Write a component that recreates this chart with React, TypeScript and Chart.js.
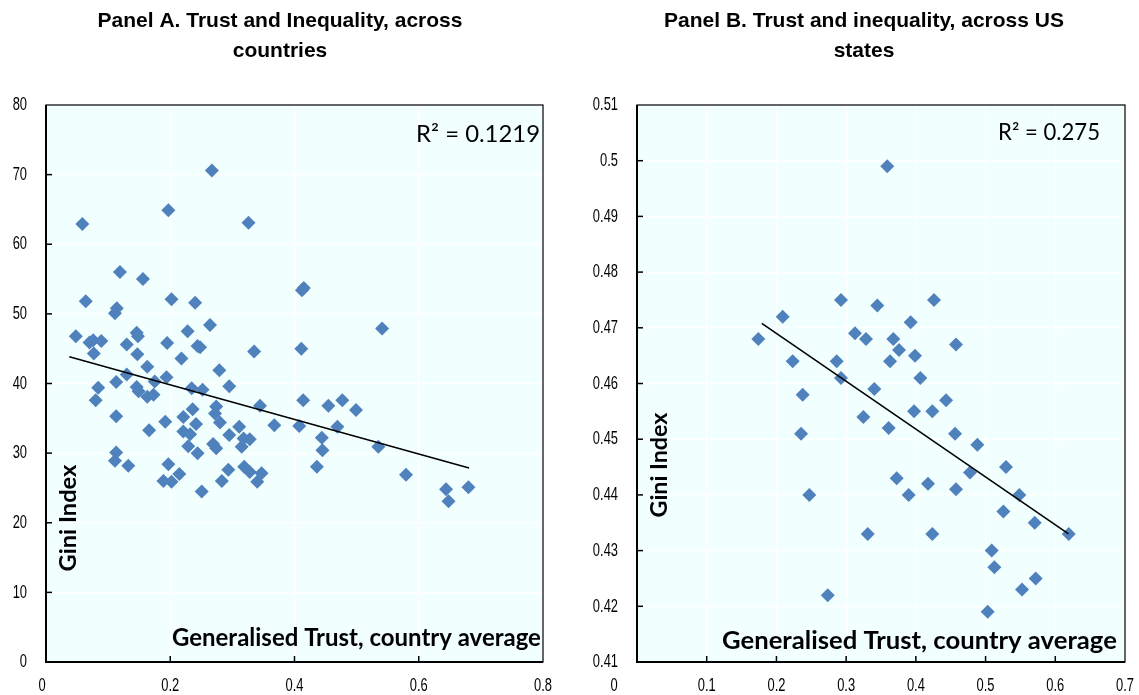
import React, { useEffect, useRef } from "react";
import { Chart, registerables } from "chart.js";
Chart.register(...registerables);

// ---------- Panel A: countries ----------
const countryTrust = [
  0.0585, 0.119, 0.156, 0.197, 0.267, 0.326, 0.064, 0.202, 0.24, 0.412, 0.415, 0.114, 0.111, 0.048, 0.07, 0.076,
  0.089, 0.077, 0.146, 0.148, 0.228, 0.264, 0.13, 0.195, 0.244, 0.248, 0.147, 0.218, 0.335, 0.163, 0.279, 0.13,
  0.084, 0.113, 0.146, 0.149, 0.175, 0.194, 0.2345, 0.252, 0.295, 0.08, 0.163, 0.173, 0.274, 0.272, 0.28, 0.3445,
  0.113, 0.236, 0.221, 0.2415, 0.192, 0.166, 0.311, 0.3675, 0.221, 0.232, 0.295, 0.318, 0.328, 0.315, 0.269, 0.274,
  0.229, 0.244, 0.113, 0.111, 0.1325, 0.197, 0.2935, 0.319, 0.328, 0.347, 0.2146, 0.189, 0.202, 0.283, 0.34, 0.2506,
  0.411, 0.414, 0.4545, 0.477, 0.499, 0.4076, 0.469, 0.444, 0.445, 0.535, 0.436, 0.5795, 0.644, 0.68, 0.648, 0.541,
];
const countryGini = [
  62.9, 56.0, 55.0, 64.9, 70.6, 63.1, 51.8, 52.1, 51.6, 53.4, 53.7, 50.8, 50.1, 46.8, 45.9, 46.2,
  46.1, 44.3, 47.3, 46.8, 47.5, 48.4, 45.6, 45.8, 45.4, 45.2, 44.2, 43.6, 44.6, 42.4, 41.9, 41.3,
  39.4, 40.2, 39.5, 38.9, 40.3, 40.9, 39.3, 39.1, 39.6, 37.6, 38.1, 38.4, 36.7, 35.7, 34.4, 36.8,
  35.3, 36.3, 35.2, 34.2, 34.5, 33.3, 33.8, 34.0, 33.1, 32.7, 32.6, 32.1, 32.0, 30.9, 31.3, 30.7,
  31.0, 30.0, 30.1, 28.9, 28.2, 28.4, 27.6, 28.05, 27.3, 27.1, 27.0, 26.0, 25.9, 26.0, 25.9, 24.5,
  45.0, 37.6, 36.8, 37.6, 36.2, 33.9, 33.8, 32.2, 30.4, 30.9, 28.05, 26.9, 24.8, 25.1, 23.1, 47.9,
];
const countryTrendX = [0.0375, 0.681];
const countryTrendY = [43.85, 27.86];
const countryXTicks = [0, 0.2, 0.4, 0.6, 0.8];
const countryXLabels = ["0", "0.2", "0.4", "0.6", "0.8"];
const countryYTicks = [0, 10, 20, 30, 40, 50, 60, 70, 80];
const countryYLabels = ["0", "10", "20", "30", "40", "50", "60", "70", "80"];

// ---------- Panel B: US states ----------
const stateTrust = [
  0.174, 0.209, 0.2233, 0.2377, 0.2353, 0.2472, 0.2736, 0.2864, 0.2926, 0.2926, 0.3127, 0.3247, 0.3285, 0.331,
  0.3404, 0.3447, 0.359, 0.361, 0.363, 0.3677, 0.3725, 0.3758, 0.3897, 0.3926, 0.3974, 0.3988, 0.4064, 0.4174,
  0.4236, 0.4236, 0.426, 0.4433, 0.4562, 0.4576, 0.4576, 0.4777, 0.4882, 0.503, 0.5088, 0.5126, 0.5255, 0.5293,
  0.5484, 0.5523, 0.5705, 0.5719, 0.6193,
];
const stateGini = [
  0.468, 0.472, 0.464, 0.458, 0.451, 0.44, 0.422, 0.464, 0.475, 0.461, 0.469, 0.454, 0.468, 0.433,
  0.459, 0.474, 0.499, 0.452, 0.464, 0.468, 0.443, 0.466, 0.44, 0.471, 0.455, 0.465, 0.461, 0.442,
  0.455, 0.433, 0.475, 0.457, 0.451, 0.467, 0.441, 0.444, 0.449, 0.419, 0.43, 0.427, 0.437, 0.445,
  0.44, 0.423, 0.435, 0.425, 0.433,
];
const stateTrendX = [0.179, 0.619];
const stateTrendY = [0.4708, 0.433];
const stateXTicks = [0, 0.1, 0.2, 0.3, 0.4, 0.5, 0.6, 0.7];
const stateXLabels = ["0", "0.1", "0.2", "0.3", "0.4", "0.5", "0.6", "0.7"];
const stateYTicks = [0.41, 0.42, 0.43, 0.44, 0.45, 0.46, 0.47, 0.48, 0.49, 0.5, 0.51];
const stateYLabels = ["0.41", "0.42", "0.43", "0.44", "0.45", "0.46", "0.47", "0.48", "0.49", "0.5", "0.51"];

const TICK_FONT = "'Liberation Sans', Arial, sans-serif";
const TITLE_FONT = "'Liberation Sans', Arial, sans-serif";
const LABEL_FONT = "Lato, 'Noto Sans', sans-serif";
const BG = "#F2FFFF";
const POINT = "#4F81BD";

type Panel = {
  key: string;
  left: number;
  width: number;
  title: string[];
  titleX: number;
  r2: string;
  r2Right: number;
  r2Width: number;
  r2Y: number;
  xTitleLeft: number;
  xTitleWidth: number;
  xTitleY: number;
  yTitleX: number;
  yTitleY: number;
  yTitleLen: number;
  yAxisWidth: number;
  rightPad: number;
  firstXLabelShift: number;
  xs: number[];
  ys: number[];
  tx: number[];
  ty: number[];
  xTicks: number[];
  xLabels: string[];
  yTicks: number[];
  yLabels: string[];
};

const panels: Panel[] = [
  {
    key: "A",
    left: 0,
    width: 570,
    title: ["Panel A. Trust and Inequality, across", "countries"],
    titleX: 280,
    r2: "R\u00b2 = 0.1219",
    r2Right: 540,
    r2Width: 124,
    r2Y: 134,
    xTitleLeft: 172,
    xTitleWidth: 369,
    xTitleY: 638,
    yTitleX: 68,
    yTitleY: 518,
    yTitleLen: 107,
    yAxisWidth: 46,
    rightPad: 27,
    firstXLabelShift: -4,
    xs: countryTrust,
    ys: countryGini,
    tx: countryTrendX,
    ty: countryTrendY,
    xTicks: countryXTicks,
    xLabels: countryXLabels,
    yTicks: countryYTicks,
    yLabels: countryYLabels,
  },
  {
    key: "B",
    left: 570,
    width: 569,
    title: ["Panel B. Trust and inequality, across US", "states"],
    titleX: 294,
    r2: "R\u00b2 = 0.275",
    r2Right: 530,
    r2Width: 102,
    r2Y: 133,
    xTitleLeft: 152,
    xTitleWidth: 395,
    xTitleY: 641,
    yTitleX: 89,
    yTitleY: 465,
    yTitleLen: 105,
    yAxisWidth: 67,
    rightPad: 14,
    firstXLabelShift: -23,
    xs: stateTrust,
    ys: stateGini,
    tx: stateTrendX,
    ty: stateTrendY,
    xTicks: stateXTicks,
    xLabels: stateXLabels,
    yTicks: stateYTicks,
    yLabels: stateYLabels,
  },
];

function fitFont(ctx: CanvasRenderingContext2D, text: string, weight: string, family: string, target: number) {
  ctx.font = `${weight} 20px ${family}`;
  const w = ctx.measureText(text).width;
  const size = (20 * target) / w;
  ctx.font = `${weight} ${size}px ${family}`;
}

function narrowText(ctx: CanvasRenderingContext2D, text: string, x: number, y: number, align: CanvasTextAlign) {
  ctx.save();
  ctx.translate(x, y);
  ctx.scale(0.68, 1);
  ctx.font = `19px ${TICK_FONT}`;
  ctx.textAlign = align;
  ctx.textBaseline = "middle";
  ctx.fillStyle = "#000";
  ctx.fillText(text, 0, 0);
  ctx.restore();
}

function decor(p: Panel) {
  return {
    id: "decor" + p.key,
    beforeDraw(chart: any) {
      const { ctx, chartArea: a } = chart;
      ctx.save();
      ctx.fillStyle = BG;
      ctx.fillRect(a.left, a.top, a.right - a.left, a.bottom - a.top);
      ctx.restore();
    },
    afterDraw(chart: any) {
      const { ctx, chartArea: a } = chart;
      const xs = chart.scales.x;
      const ys = chart.scales.y;
      ctx.save();
      // frame
      ctx.strokeStyle = "#000";
      ctx.lineWidth = 1.2;
      ctx.strokeRect(a.left, a.top, a.right - a.left, a.bottom - a.top);
      ctx.lineWidth = 2;
      ctx.beginPath();
      ctx.moveTo(a.left, a.top);
      ctx.lineTo(a.left, a.bottom);
      ctx.lineTo(a.right, a.bottom);
      ctx.stroke();
      // inner tick marks
      ctx.lineWidth = 1.5;
      p.xTicks.slice(1, -1).forEach((v) => {
        const px = xs.getPixelForValue(v);
        ctx.beginPath();
        ctx.moveTo(px, a.bottom);
        ctx.lineTo(px, a.bottom - 6);
        ctx.stroke();
      });
      p.yTicks.slice(1, -1).forEach((v) => {
        const py = ys.getPixelForValue(v);
        ctx.beginPath();
        ctx.moveTo(a.left, py);
        ctx.lineTo(a.left + 6, py);
        ctx.stroke();
      });
      // tick labels (condensed)
      p.yTicks.forEach((v, i) => {
        narrowText(ctx, p.yLabels[i], a.left - 19, ys.getPixelForValue(v), "right");
      });
      p.xTicks.forEach((v, i) => {
        const shift = i === 0 ? p.firstXLabelShift : 0;
        narrowText(ctx, p.xLabels[i], xs.getPixelForValue(v) + shift, a.bottom + 24, "center");
      });
      ctx.fillStyle = "#000";
      // title
      ctx.font = `bold 21px ${TITLE_FONT}`;
      ctx.textAlign = "center";
      ctx.textBaseline = "alphabetic";
      ctx.fillText(p.title[0], p.titleX, 27);
      ctx.fillText(p.title[1], p.titleX, 57);
      // R2
      fitFont(ctx, p.r2, "normal", LABEL_FONT, p.r2Width);
      ctx.textAlign = "right";
      ctx.textBaseline = "middle";
      ctx.fillText(p.r2, p.r2Right, p.r2Y);
      // x title
      const xt = "Generalised Trust, country average";
      fitFont(ctx, xt, "bold", LABEL_FONT, p.xTitleWidth);
      ctx.textAlign = "left";
      ctx.fillText(xt, p.xTitleLeft, p.xTitleY);
      // y title
      const yt = "Gini Index";
      fitFont(ctx, yt, "bold", LABEL_FONT, p.yTitleLen);
      ctx.translate(p.yTitleX, p.yTitleY);
      ctx.rotate(-Math.PI / 2);
      ctx.textAlign = "center";
      ctx.fillText(yt, 0, 0);
      ctx.restore();
    },
  };
}

function PanelChart({ p }: { p: Panel }) {
  const ref = useRef<HTMLCanvasElement | null>(null);
  useEffect(() => {
    if (!ref.current) return;
    const points = p.xs.map((x, i) => ({ x, y: p.ys[i] }));
    const trend = p.tx.map((x, i) => ({ x, y: p.ty[i] }));
    const xmin = p.xTicks[0];
    const xmax = p.xTicks[p.xTicks.length - 1];
    const ymin = p.yTicks[0];
    const ymax = p.yTicks[p.yTicks.length - 1];
    const chart = new Chart(ref.current, {
      type: "scatter",
      data: {
        datasets: [
          {
            type: "line",
            data: trend,
            borderColor: "#000",
            borderWidth: 1.6,
            pointRadius: 0,
            fill: false,
          } as any,
          {
            data: points,
            backgroundColor: POINT,
            borderWidth: 0,
            pointStyle: "rectRot",
            pointRadius: 7,
          },
        ],
      },
      options: {
        animation: false,
        responsive: false,
        events: [],
        layout: { padding: { left: 0, top: 105, right: p.rightPad, bottom: 0 } },
        plugins: { legend: { display: false }, tooltip: { enabled: false }, title: { display: false } },
        scales: {
          x: {
            type: "linear",
            min: xmin,
            max: xmax,
            afterBuildTicks: (s: any) => {
              s.ticks = p.xTicks.map((v) => ({ value: v }));
            },
            afterFit: (s: any) => {
              s.height = 33;
            },
            ticks: { display: false },
            grid: { color: "#ffffff", lineWidth: 1.2, drawTicks: false },
            border: { display: false },
          },
          y: {
            type: "linear",
            min: ymin,
            max: ymax,
            afterBuildTicks: (s: any) => {
              s.ticks = p.yTicks.map((v) => ({ value: v }));
            },
            afterFit: (s: any) => {
              s.width = p.yAxisWidth;
            },
            ticks: { display: false },
            grid: { color: "#ffffff", lineWidth: 1.2, drawTicks: false },
            border: { display: false },
          },
        },
      },
      plugins: [decor(p)],
    } as any);
    return () => chart.destroy();
  }, [p]);
  return (
    <canvas
      ref={ref}
      width={p.width}
      height={695}
      style={{ position: "absolute", left: p.left, top: 0, width: p.width, height: 695 }}
    />
  );
}

export default function App() {
  useEffect(() => {
    document.body.style.margin = "0";
  }, []);
  return (
    <div style={{ position: "relative", width: 1139, height: 695, background: "#fff", overflow: "hidden" }}>
      {panels.map((p) => (
        <PanelChart key={p.key} p={p} />
      ))}
    </div>
  );
}
